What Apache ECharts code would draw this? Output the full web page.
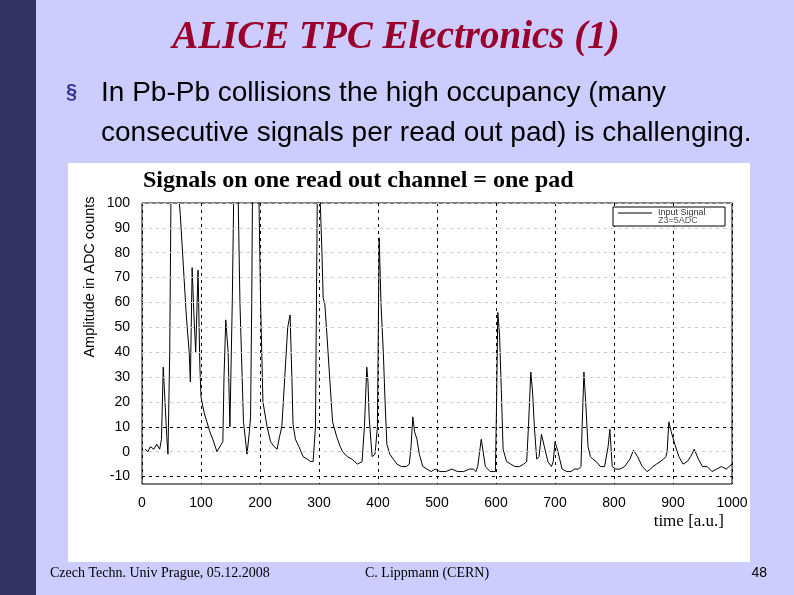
<!DOCTYPE html>
<html><head><meta charset="utf-8">
<script src="https://cdn.jsdelivr.net/npm/echarts@6/dist/echarts.min.js"></script>
<style>html,body{margin:0;padding:0;background:#CCCCFF}#c{width:794px;height:595px}</style>
</head><body><div id="c"></div>
<script>
const slideTitle = "ALICE TPC Electronics (1)";
const bulletLines = ["In Pb-Pb collisions the high occupancy (many", "consecutive signals per read out pad) is challenging."];
const chartTitle = "Signals on one read out channel = one pad";
const yTicks = [-10,0,10,20,30,40,50,60,70,80,90,100];
const xTicks = [0,100,200,300,400,500,600,700,800,900,1000];
const timeX = [5,10,14,20,25,30,33,36,39,42,44,47,50,55,60,65,70,75,80,82,85,88,91,95,98,100,105,110,115,120,127,132,137,139,142,146,149,153,157,161,166,172,178,182,184,186,188,192,197,201,205,212,218,224,229,233,237,242,247,251,254,256,260,266,273,280,286,290,294,298,301,305,307,310,314,318,323,330,336,340,348,356,365,373,377,381,383,385,390,395,399,402,405,409,412,415,420,426,432,440,448,453,456,459,462,466,470,476,483,490,497,505,515,525,535,545,555,562,566,569,575,582,590,595,599,601,603,606,609,612,618,625,632,640,647,652,655,659,662,665,669,673,677,682,688,694,697,700,705,712,720,727,733,740,744,746,749,752,756,760,764,770,777,784,790,793,797,803,810,818,827,833,840,848,856,862,866,872,878,884,888,890,893,897,903,910,917,924,930,936,943,950,958,966,974,982,990,1000];
const amplitude = [1,0,2,1,3,1,5,34,20,6,-1,40,130,130,110,95,75,55,40,28,74,55,40,73,35,22,16,12,8,5,0,2,4,30,53,40,10,60,130,130,60,12,-1,8,14,60,130,130,120,60,20,10,4,2,1,6,10,30,50,55,30,11,5,2,-2,-3,-4,-4,10,130,130,80,62,59,45,30,12,6,2,0,-2,-3,-5,-4,10,34,28,14,-2,-1,10,86,60,40,20,3,-1,-3,-5,-6,-6,-5,2,14,8,5,-1,-6,-7,-8,-7,-8,-8,-7,-8,-8,-7,-7,-8,-6,5,-6,-8,-8,-8,20,56,47,25,1,-4,-5,-6,-6,-5,-4,10,32,24,10,-3,-2,7,2,-4,-6,-4,4,0,-7,-8,-8,-7,-7,-6,10,32,20,2,-2,-3,-4,-6,-6,2,9,-6,-7,-7,-6,-3,0.6,-2,-6,-8,-7,-6,-5,-4,-3,-2,0,12,8,3,-2,-5,-4,-2,1,-3,-6,-6,-8,-7,-6,-7,-5,-6,-4];

const chart = echarts.init(document.getElementById('c'));
const serif = '"Liberation Serif","DejaVu Serif",serif';
const sans = '"Liberation Sans",Arial,sans-serif';
chart.setOption({
  backgroundColor:'#CCCCFF',
  animation:false,
  graphic:[
    {type:'rect',shape:{x:0,y:0,width:36,height:595},style:{fill:'#333366'}},
    {type:'text',x:396,y:38,style:{text:slideTitle,font:'italic bold 39px '+serif,fill:'#99002B',align:'center',verticalAlign:'middle'}},
    {type:'text',x:66,y:92,style:{text:'§',font:'bold 20px '+sans,fill:'#333399',verticalAlign:'middle'}},
    {type:'text',x:101,y:93,style:{text:bulletLines[0],font:'28px '+sans,fill:'#000',verticalAlign:'middle'}},
    {type:'text',x:101,y:133,style:{text:bulletLines[1],font:'28px '+sans,fill:'#000',verticalAlign:'middle'}},
    {type:'rect',z:-1,shape:{x:68,y:163,width:682,height:399},style:{fill:'#fff'}},
    {type:'text',x:143,y:181,style:{text:chartTitle,font:'bold 24px '+serif,fill:'#000',verticalAlign:'middle'}},
    {type:'text',x:90,y:277,rotation:Math.PI/2,style:{text:'Amplitude in ADC counts',font:'14.5px '+sans,fill:'#000',align:'center',verticalAlign:'middle'}},
    {type:'text',x:724,y:522,style:{text:'time [a.u.]',font:'17px '+serif,fill:'#000',align:'right',verticalAlign:'middle'}},
    {type:'rect',z:10,shape:{x:613,y:207,width:112,height:19},style:{fill:'#fff',stroke:'#000',lineWidth:1}},
    {type:'line',z:11,shape:{x1:618,y1:213,x2:652,y2:213},style:{stroke:'#000',lineWidth:1}},
    {type:'text',z:11,x:658,y:213,style:{text:'Input Signal',font:'9px '+sans,fill:'#333',verticalAlign:'middle'}},
    {type:'text',z:11,x:658,y:221,style:{text:'Z3=5ADC',font:'9px '+sans,fill:'#555',verticalAlign:'middle'}},
    {type:'text',x:50,y:573,style:{text:'Czech Techn. Univ Prague, 05.12.2008',font:'14px '+serif,fill:'#000',verticalAlign:'middle'}},
    {type:'text',x:365,y:573,style:{text:'C. Lippmann (CERN)',font:'14px '+serif,fill:'#000',verticalAlign:'middle'}},
    {type:'text',x:767,y:573,style:{text:'48',font:'14px '+sans,fill:'#000',align:'right',verticalAlign:'middle'}}
  ],
  grid:{left:142,right:62,top:203,bottom:111,show:true,borderColor:'#000',borderWidth:1},
  xAxis:{type:'value',min:0,max:1000,interval:100,
    axisLine:{show:false},axisTick:{show:false},
    axisLabel:{customValues:xTicks,formatter:v=>String(v),fontFamily:sans,fontSize:14,color:'#000',margin:12},
    splitLine:{show:true,lineStyle:{color:'#000',type:[3,4],width:1}}},
  yAxis:{type:'value',min:-13,max:100,
    axisLine:{show:false},axisTick:{show:false},
    axisLabel:{customValues:yTicks,formatter:v=>String(v),fontFamily:sans,fontSize:14,color:'#000',margin:12},
    splitLine:{show:false}},
  series:[{type:'line',data:timeX.map((x,i)=>[x,amplitude[i]]),showSymbol:false,clip:true,
    lineStyle:{color:'#000',width:1},
    markLine:{silent:true,symbol:'none',label:{show:false},
      data:yTicks.map(v=>({yAxis:v,lineStyle:{color:(v===10||v===-10)?'#000':'#ccc',type:[3,4],width:1}}))}}]
});
</script></body></html>
